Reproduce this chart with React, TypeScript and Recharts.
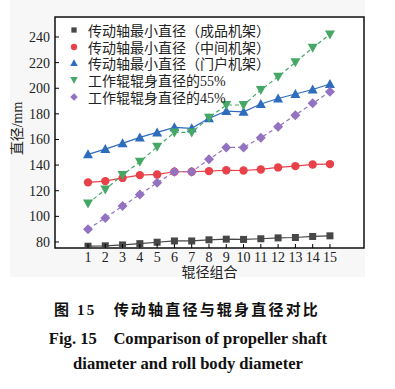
import React from 'react';
import { LineChart, Line, XAxis, YAxis, ReferenceArea } from 'recharts';

const combos = [1, 2, 3, 4, 5, 6, 7, 8, 9, 10, 11, 12, 13, 14, 15];
const finishShaft = [76.7, 77, 77.7, 78.7, 79.8, 80.8, 80.8, 81.7, 82.2, 82, 82.5, 83.2, 83.5, 84.3, 84.8];
const middleShaft = [126.5, 127.5, 130, 132.2, 132.7, 134.8, 134.8, 135.3, 136, 135.8, 136.6, 138.2, 139.2, 140.5, 140.8];
const doorShaft = [148.4, 152.5, 157, 161.6, 165.5, 169.5, 168.7, 176.5, 182.2, 181.6, 187.7, 192, 195.5, 199, 203.3];
const body55 = [110, 121, 132.2, 142.6, 154.3, 165.5, 165.5, 177, 186.9, 186.9, 198.6, 209, 220.2, 231.6, 242];
const body45 = [90, 98.8, 108, 117.1, 126.2, 134.8, 134.8, 144.5, 153.8, 153.8, 161.4, 170, 179, 188.2, 197.3];
const yTicks = [80, 100, 120, 140, 160, 180, 200, 220, 240];

const data = combos.map((c, i) => ({
    c,
    s1: finishShaft[i],
    s2: middleShaft[i],
    s3: doorShaft[i],
    s4: body55[i],
    s5: body45[i],
}));

const series = [
    { key: 's1', name: '传动轴最小直径（成品机架）', color: '#474747', shape: 'square', dash: undefined },
    { key: 's2', name: '传动轴最小直径（中间机架）', color: '#e8414a', shape: 'circle', dash: undefined },
    { key: 's3', name: '传动轴最小直径（门户机架）', color: '#2e6cbd', shape: 'up', dash: undefined },
    { key: 's4', name: '工作辊辊身直径的55%', color: '#45a866', shape: 'down', dash: '4 3' },
    { key: 's5', name: '工作辊辊身直径的45%', color: '#9372c2', shape: 'diamond', dash: '4 3' },
];

const serif = '"Liberation Serif", "Noto Sans CJK SC", serif';

// k scales the marker (legend icons are a bit smaller than the plotted ones)
const Marker = ({ shape, color, cx, cy, k = 1 }: any) => {
    if (shape === 'square') return <rect x={cx - 3.5 * k} y={cy - 3.5 * k} width={7 * k} height={7 * k} fill={color} />;
    if (shape === 'circle') return <circle cx={cx} cy={cy} r={4.2 * k} fill={color} />;
    if (shape === 'up') return <polygon points={`${cx},${cy - 5 * k} ${cx - 5 * k},${cy + 4 * k} ${cx + 5 * k},${cy + 4 * k}`} fill={color} />;
    if (shape === 'down') return <polygon points={`${cx},${cy + 5 * k} ${cx - 5 * k},${cy - 4 * k} ${cx + 5 * k},${cy - 4 * k}`} fill={color} />;
    return <polygon points={`${cx},${cy - 5 * k} ${cx + 5 * k},${cy} ${cx},${cy + 5 * k} ${cx - 5 * k},${cy}`} fill={color} />;
};

const XTick = ({ x, y, payload }: any) => (
    <g>
        <line x1={x} x2={x} y1={y - 4} y2={y - 8} stroke="#000" strokeWidth={1} />
        <text x={x} y={y + 10} textAnchor="middle" fontFamily={serif} fontSize={14} fill="#222">{payload.value}</text>
    </g>
);

const YTick = ({ x, y, payload }: any) => (
    <g>
        <line x1={x + 5} x2={x + 9} y1={y} y2={y} stroke="#000" strokeWidth={1} />
        <text x={x} y={y + 5} textAnchor="end" fontFamily={serif} fontSize={14} fill="#222">{payload.value}</text>
    </g>
);

const LegendBox = () => (
    <div style={{ position: 'absolute', left: 66, top: 22, fontFamily: serif, fontSize: 14, color: '#222' }}>
        {series.map((s) => (
            <div key={s.key} style={{ display: 'flex', alignItems: 'center', height: 16.6, whiteSpace: 'nowrap' }}>
                <svg width={16} height={14} style={{ marginRight: 6 }}>
                    <Marker shape={s.shape} color={s.color} cx={8} cy={7} k={0.75} />
                </svg>
                <span>{s.name}</span>
            </div>
        ))}
    </div>
);

export default function App() {
    return (
        <div style={{ position: 'absolute', left: 0, top: 0, width: 395, height: 389, background: '#fff' }}>
            <div style={{ position: 'absolute', left: 10, top: 0, width: 355, height: 277, background: '#f7f7f7' }} />
            <div style={{ position: 'absolute', left: 0, top: 0 }}>
                <LineChart width={395} height={280} data={data} margin={{ top: 17, right: 31, left: 0, bottom: 0 }}>
                    <ReferenceArea x1={-0.91} x2={16.97} y1={75.3} y2={255.6} fill="#fff" fillOpacity={1} stroke="none" ifOverflow="visible" />
                    <XAxis
                        dataKey="c"
                        type="number"
                        domain={[-0.91, 16.97]}
                        ticks={combos}
                        interval={0}
                        allowDataOverflow
                        height={32}
                        tickSize={0}
                        tickMargin={4}
                        axisLine={false}
                        tick={<XTick />}
                        label={(props: any) => {
                            const vb = props.viewBox;
                            return (
                                <text x={vb.x + vb.width / 2} y={277} textAnchor="middle" fontFamily={serif} fontSize={14} fill="#222">辊径组合</text>
                            );
                        }}
                    />
                    <YAxis
                        type="number"
                        domain={[75.3, 255.6]}
                        ticks={yTicks}
                        interval={0}
                        allowDataOverflow
                        width={55}
                        tickSize={0}
                        tickMargin={5}
                        axisLine={false}
                        tick={<YTick />}
                        label={(props: any) => {
                            const vb = props.viewBox;
                            const cy = vb.y + vb.height / 2 - 4;
                            return (
                                <text x={22} y={cy} transform={`rotate(-90 22 ${cy})`} textAnchor="middle" fontFamily={serif} fontSize={14} fill="#222">直径/mm</text>
                            );
                        }}
                    />
                    <ReferenceArea x1={-0.91} x2={16.97} y1={75.3} y2={255.6} fill="none" stroke="#111" strokeWidth={1.5} ifOverflow="visible" />
                    {series.map((s) => (
                        <Line
                            key={s.key}
                            dataKey={s.key}
                            name={s.name}
                            stroke={s.color}
                            strokeWidth={1.2}
                            strokeDasharray={s.dash}
                            isAnimationActive={false}
                            dot={(p: any) => <Marker key={`${s.key}-${p.index}`} shape={s.shape} color={s.color} cx={p.cx} cy={p.cy} />}
                            activeDot={false}
                        />
                    ))}
                </LineChart>
            </div>
            <LegendBox />
            <div style={{ position: 'absolute', left: 0, top: 298, width: 374, textAlign: 'center', fontFamily: serif, fontWeight: 'bold', fontSize: 15, color: '#111', letterSpacing: 2.2 }}>
                图 15　传动轴直径与辊身直径对比
            </div>
            <div style={{ position: 'absolute', left: 0, top: 325, width: 376, textAlign: 'center', fontFamily: serif, fontWeight: 'bold', fontSize: 16.6, color: '#111', whiteSpace: 'nowrap' }}>
                Fig. 15　Comparison of propeller shaft
            </div>
            <div style={{ position: 'absolute', left: 0, top: 354, width: 376, textAlign: 'center', fontFamily: serif, fontWeight: 'bold', fontSize: 16.6, color: '#111', whiteSpace: 'nowrap' }}>
                diameter and roll body diameter
            </div>
        </div>
    );
}
